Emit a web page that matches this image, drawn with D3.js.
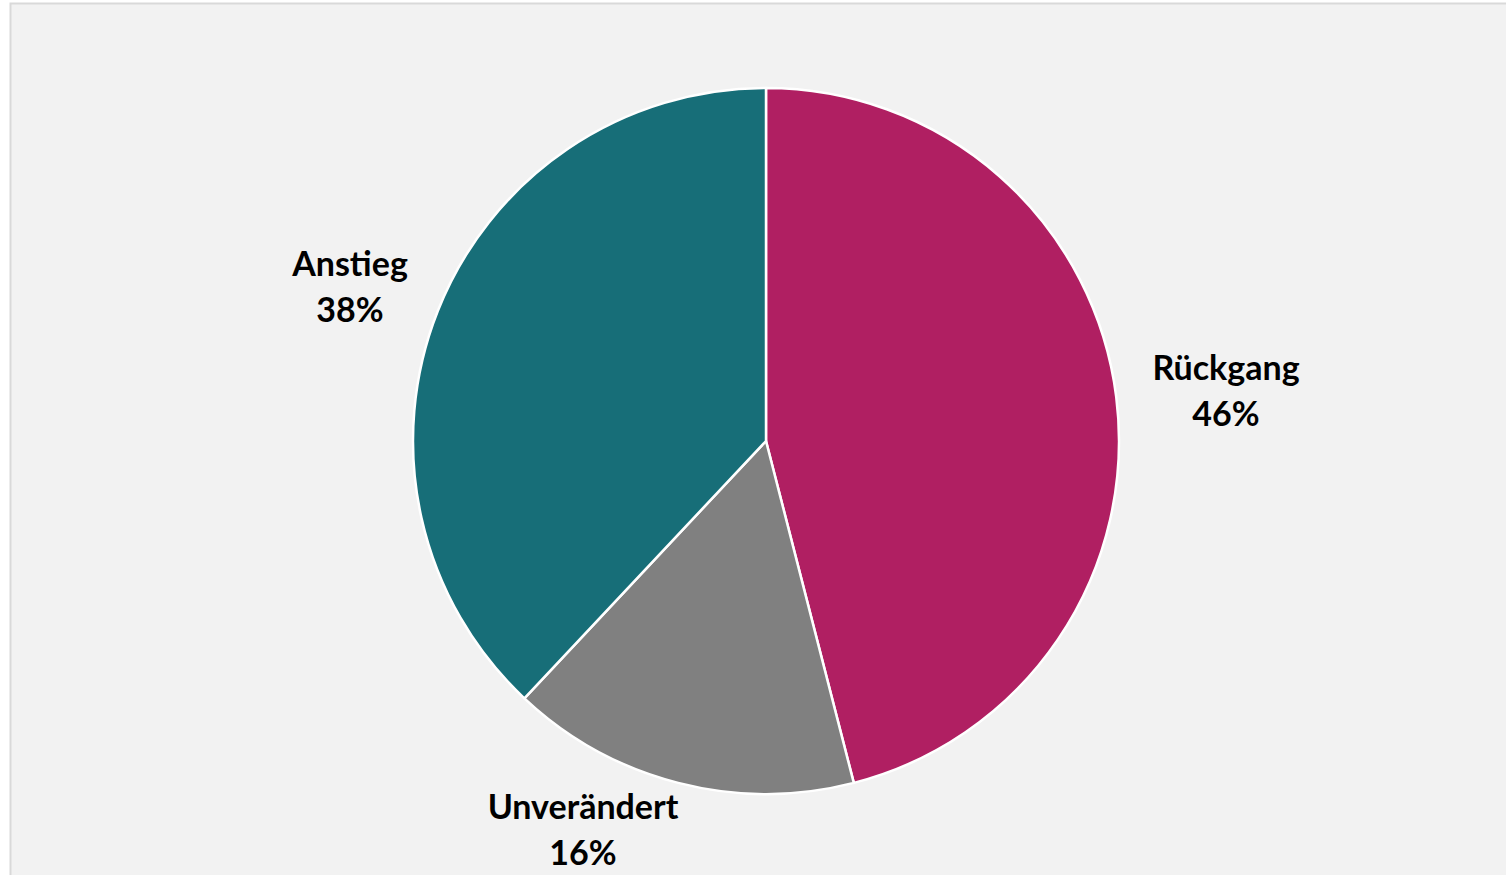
<!DOCTYPE html>
<html>
<head>
<meta charset="utf-8">
<script src="https://cdn.jsdelivr.net/npm/d3@7"></script>
<style>
  body { margin: 0; background: #fff; }
  svg { display: block; }
  .lbl { font-family: "Lato", "Open Sans", sans-serif; font-weight: 700; font-size: 34px; fill: #000; }
</style>
</head>
<body>
<svg></svg>
<script>
// categories in drawing order (clockwise from 12 o'clock)
var categories = ['Rückgang', 'Unverändert', 'Anstieg'];
var values = [46, 16, 38];
var colors = ['#b01f62', '#808080', '#176e78'];

var width = 1506;
var height = 875;
var cx = 766, cy = 441, radius = 353;

// label anchor (first baseline) offsets from centre, Excel best-fit placement
var labelOffsets = [[460, -61], [-183, 378], [-416, -165]];
var lineGap = 46;

var data = categories.map((c, i) => ({ name: c, value: values[i], color: colors[i], off: labelOffsets[i] }));

var svg = d3.select('svg')
  .attr('width', width)
  .attr('height', height);

svg.append('rect')
  .attr('x', 10.5)
  .attr('y', 3.5)
  .attr('width', width + 20)
  .attr('height', height + 20)
  .attr('fill', '#f2f2f2')
  .attr('stroke', '#d9d9d9')
  .attr('stroke-width', 2);

var pie = d3.pie()
  .sort(null)
  .value(d => d.value);

var arc = d3.arc()
  .innerRadius(0)
  .outerRadius(radius);

var g = svg.append('g')
  .attr('transform', `translate(${cx},${cy})`);

g.selectAll('.slice')
  .data(pie(data))
  .enter()
  .append('path')
  .classed('slice', true)
  .attr('d', arc)
  .attr('fill', d => d.data.color)
  .attr('stroke', '#fff')
  .attr('stroke-width', 2.5)
  .attr('stroke-linejoin', 'round');

var labels = g.selectAll('.lbl')
  .data(pie(data))
  .enter()
  .append('text')
  .classed('lbl', true)
  .attr('text-anchor', 'middle')
  .attr('transform', d => `translate(${d.data.off[0]},${d.data.off[1]})`);

labels.append('tspan')
  .attr('x', 0)
  .attr('y', 0)
  .text(d => d.data.name);

labels.append('tspan')
  .attr('x', 0)
  .attr('y', lineGap)
  .text(d => d3.format('.0%')(d.data.value / 100));
</script>
</body>
</html>
